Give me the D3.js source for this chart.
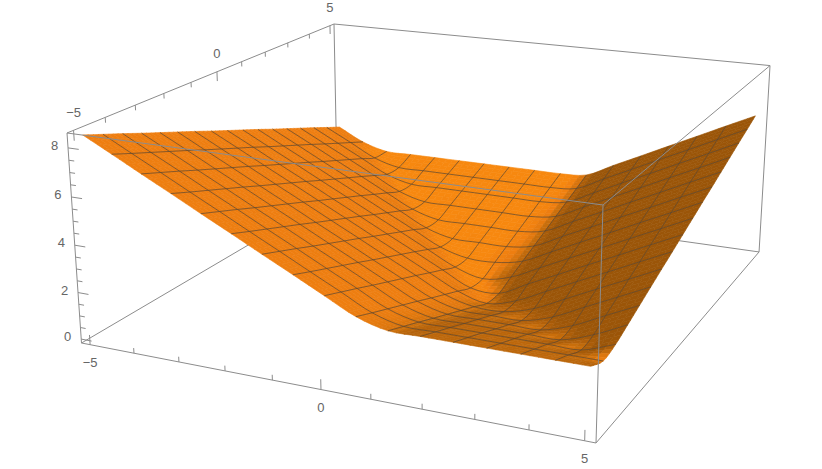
<!DOCTYPE html>
<html>
<head>
<meta charset="utf-8">
<script src="https://cdnjs.cloudflare.com/ajax/libs/d3/7.8.5/d3.min.js"></script>
<style>
  html, body { margin: 0; padding: 0; background: #fff; }
  text { font-family: "Liberation Sans", Arial, sans-serif; font-size: 13px; fill: #636363; }
</style>
</head>
<body>
<svg width="822" height="469"></svg>
<script>
// mesh positions along both floor axes
const xValues = [-5,-4.375,-3.75,-3.125,-2.5,-1.875,-1.25,-0.625,0,0.625,1.25,1.875,2.5,3.125,3.75,4.375,5];
const yValues = [-5,-4.375,-3.75,-3.125,-2.5,-1.875,-1.25,-0.625,0,0.625,1.25,1.875,2.5,3.125,3.75,4.375,5];

// surface height at each mesh node, one row per y value
const zRows = [
  [8.46,7.84,7.21,6.59,5.96,5.34,4.71,4.09,3.46,2.84,2.50,2.50,2.50,2.50,2.50,2.50,2.50],
  [8.15,7.52,6.90,6.27,5.65,5.02,4.40,3.77,3.15,2.52,2.19,2.19,2.19,2.19,2.19,2.19,2.19],
  [7.84,7.21,6.59,5.96,5.34,4.71,4.09,3.46,2.84,2.21,1.88,1.88,1.88,1.88,1.88,1.88,2.33],
  [7.52,6.90,6.27,5.65,5.02,4.40,3.77,3.15,2.52,1.90,1.56,1.56,1.56,1.56,1.56,1.99,2.61],
  [7.21,6.59,5.96,5.34,4.71,4.09,3.46,2.84,2.21,1.59,1.25,1.25,1.25,1.25,1.65,2.28,2.90],
  [6.90,6.27,5.65,5.02,4.40,3.77,3.15,2.52,1.90,1.27,0.94,0.94,0.94,1.31,1.94,2.56,3.19],
  [6.59,5.96,5.34,4.71,4.09,3.46,2.84,2.21,1.59,0.96,0.63,0.63,0.98,1.60,2.23,2.85,3.48],
  [6.27,5.65,5.02,4.40,3.77,3.15,2.52,1.90,1.27,0.65,0.31,0.64,1.26,1.89,2.51,3.14,3.76],
  [5.96,5.34,4.71,4.09,3.46,2.84,2.21,1.59,0.96,0.34,0.30,0.93,1.55,2.18,2.80,3.43,4.05],
  [5.65,5.02,4.40,3.77,3.15,2.52,1.90,1.27,0.65,0.31,0.59,1.21,1.84,2.46,3.09,3.71,4.34],
  [5.34,4.71,4.09,3.46,2.84,2.21,1.59,0.96,0.63,0.63,0.88,1.50,2.13,2.75,3.38,4.00,4.63],
  [5.02,4.40,3.77,3.15,2.52,1.90,1.27,0.94,0.94,0.94,1.16,1.79,2.41,3.04,3.66,4.29,4.91],
  [4.71,4.09,3.46,2.84,2.21,1.59,1.25,1.25,1.25,1.25,1.45,2.08,2.70,3.33,3.95,4.58,5.20],
  [4.40,3.77,3.15,2.52,1.90,1.56,1.56,1.56,1.56,1.56,1.74,2.36,2.99,3.61,4.24,4.86,5.49],
  [4.09,3.46,2.84,2.21,1.88,1.88,1.88,1.88,1.88,1.88,2.03,2.65,3.28,3.90,4.53,5.15,5.78],
  [3.77,3.15,2.52,2.19,2.19,2.19,2.19,2.19,2.19,2.19,2.31,2.94,3.56,4.19,4.81,5.44,6.06],
  [3.46,2.84,2.50,2.50,2.50,2.50,2.50,2.50,2.50,2.50,2.60,3.23,3.85,4.48,5.10,5.73,6.35]
];

// axis ticks and labels
const xyMajor = [-5,0,5];
const xyMinor = [-4,-3,-2,-1,1,2,3,4];
const zMajor = [0,2,4,6,8];
const zMinor = [0.5,1,1.5,2.5,3,3.5,4.5,5,5.5,6.5,7,7.5];

const svg = d3.select('svg');

// plot box limits (2% padding round the data)
const xScale = d3.scaleLinear().domain([-5.2,5.2]).range([0,1]);
const yScale = d3.scaleLinear().domain([-5.2,5.2]).range([0,1]);
const zScale = d3.scaleLinear().domain([-0.17,8.6]).range([0,1]);

// camera: perspective map from the unit box to the page
const camOrigin = [81.5,343];
const camX = [437.44,42.72];
const camY = [346.92,-98.33];
const camZ = [-17.07,-215.11];
const camPersp = [-0.1293,0.27,-0.03842];

const project = (x,y,z)=>{
    const u = xScale(x), v = yScale(y), w = zScale(z);
    const d = 1 + camPersp[0]*u + camPersp[1]*v + camPersp[2]*w;
    return [
        (camOrigin[0] + camX[0]*u + camY[0]*v + camZ[0]*w)/d,
        (camOrigin[1] + camX[1]*u + camY[1]*v + camZ[1]*w)/d
    ];
};

// Catmull-Rom through the nodes, keeps the creases tight but rounded
const roundCurve = values=>t=>{
    const n = values.length - 1;
    const i = Math.min(Math.floor(t*n),n-1);
    const s = t*n - i;
    const a = i>0 ? values[i-1] : 2*values[0]-values[1];
    const b = values[i];
    const c = values[i+1];
    const e = i<n-1 ? values[i+2] : 2*values[n]-values[n-1];
    return 0.5*(2*b + (c-a)*s + (2*a-5*b+4*c-e)*s*s + (3*b-a-3*c+e)*s*s*s);
};

const sub = 4;
const cells = xValues.length - 1;
const fineN = cells*sub + 1;
const step = (xValues[1]-xValues[0])/sub;
const fineX = d3.range(fineN).map(i=>xValues[0] + i*step);
const fineY = d3.range(fineN).map(j=>yValues[0] + j*step);

const rowCurves = zRows.map(roundCurve);
const fineZ = fineX.map((x,i)=>{
    const colCurve = roundCurve(rowCurves.map(s=>s(i/(fineN-1))));
    return fineY.map((y,j)=>colCurve(j/(fineN-1)));
});

const pointAt = (i,j)=>project(fineX[i],fineY[j],fineZ[i][j]);

// simple lighting from the facet normal
const light = [0.5,-0.4,0.75];
const shade = d3.scaleLinear()
    .domain([0.30,0.46,0.53,0.70,0.83])
    .range(['#9b5508','#b5620a','#c46c0b','#ee7e10','#f7880f'])
    .clamp(true);

const facetColor = (i,j)=>{
    const dzdx = (fineZ[i+1][j]+fineZ[i+1][j+1]-fineZ[i][j]-fineZ[i][j+1])/(2*step);
    const dzdy = (fineZ[i][j+1]+fineZ[i+1][j+1]-fineZ[i][j]-fineZ[i+1][j])/(2*step);
    const len = Math.sqrt(dzdx*dzdx + dzdy*dzdy + 1);
    return shade((-dzdx*light[0] - dzdy*light[1] + light[2])/len);
};

const boxLine = (a,b)=>{
    svg.append('line')
        .attr('x1',project(...a)[0]).attr('y1',project(...a)[1])
        .attr('x2',project(...b)[0]).attr('y2',project(...b)[1])
        .attr('stroke','#8c8c8c')
        .attr('stroke-width',1);
};

const [x0,x1] = xScale.domain();
const [y0,y1] = yScale.domain();
const [z0,z1] = zScale.domain();

// back edges go under the surface
boxLine([x0,y0,z1],[x0,y1,z1]);
boxLine([x0,y1,z1],[x1,y1,z1]);
boxLine([x0,y1,z1],[x0,y1,z0]);
boxLine([x0,y0,z0],[x0,y1,z0]);
boxLine([x0,y1,z0],[x1,y1,z0]);
boxLine([x1,y1,z0],[x1,y1,z1]);

// facets, painted far to near
const facets = [];
for (let j=fineN-2;j>=0;j--) {
    for (let i=0;i<fineN-1;i++) facets.push([i,j]);
}
const polyPath = ([i,j])=>'M'+[pointAt(i,j),pointAt(i+1,j),pointAt(i+1,j+1),pointAt(i,j+1)].join('L')+'Z';

svg.append('g').selectAll('path').data(facets)
    .enter().append('path')
        .attr('d',polyPath)
        .attr('fill',d=>facetColor(d[0],d[1]))
        .attr('stroke',d=>facetColor(d[0],d[1]))
        .attr('stroke-width',0.6);

// mesh lines
const line = d3.line();
const meshG = svg.append('g')
    .attr('fill','none')
    .attr('stroke','#5a4630')
    .attr('stroke-opacity',0.8)
    .attr('stroke-width',0.9);

d3.range(1,cells).forEach(c=>{
    meshG.append('path').attr('d',line(d3.range(fineN).map(j=>pointAt(c*sub,j))));
    meshG.append('path').attr('d',line(d3.range(fineN).map(i=>pointAt(i,c*sub))));
});

// front edges go over it
boxLine([x0,y0,z0],[x0,y0,z1]);
boxLine([x0,y0,z0],[x1,y0,z0]);
boxLine([x1,y0,z0],[x1,y0,z1]);
boxLine([x0,y0,z1],[x1,y0,z1]);
boxLine([x1,y0,z1],[x1,y1,z1]);
boxLine([x1,y0,z0],[x1,y1,z0]);

// ticks
const tickG = svg.append('g').attr('stroke','#8c8c8c').attr('stroke-width',1);
const tick = (a,b)=>{
    const p = project(...a), q = project(...b);
    tickG.append('line').attr('x1',p[0]).attr('y1',p[1]).attr('x2',q[0]).attr('y2',q[1]);
};

xyMajor.forEach(v=>tick([v,y0,z0],[v,y0,z0+0.42]));
xyMinor.forEach(v=>tick([v,y0,z0],[v,y0,z0+0.22]));
xyMajor.forEach(v=>tick([x0,v,z1],[x0,v,z1-0.42]));
xyMinor.forEach(v=>tick([x0,v,z1],[x0,v,z1-0.22]));
zMajor.forEach(v=>tick([x0,y0,v],[x0+0.24,y0,v]));
zMinor.forEach(v=>tick([x0,y0,v],[x0+0.12,y0,v]));

// tick labels, group opacity keeps the text antialiasing grey
const labelG = svg.append('g').attr('opacity',0.98);
const label = (p,dx,dy,t)=>{
    labelG.append('text')
        .attr('x',p[0]+dx)
        .attr('y',p[1]+dy)
        .attr('text-anchor','middle')
        .attr('dominant-baseline','central')
        .text(t);
};
const fmt = v=>String(v).replace('-','\u2212');

xyMajor.forEach(v=>label(project(v,y0,z0),0,18,fmt(v)));
xyMajor.forEach(v=>label(project(x0,v,z1),0,-18,fmt(v)));
zMajor.forEach(v=>label(project(x0,y0,v),-13.5,-2.5,fmt(v)));
</script>
</body>
</html>
